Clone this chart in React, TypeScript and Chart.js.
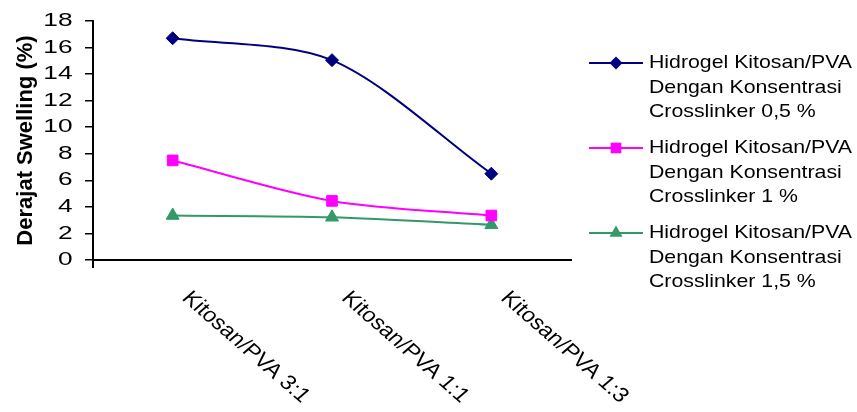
import React, { useEffect, useRef } from 'react';
import { Chart, registerables } from 'chart.js';

Chart.register(...registerables);

const categories = ['Kitosan/PVA 3:1', 'Kitosan/PVA 1:1', 'Kitosan/PVA 1:3'];
const crosslinker05 = [16.7, 15.05, 6.5];
const crosslinker1 = [7.5, 4.45, 3.35];
const crosslinker15 = [3.35, 3.22, 2.65];
const legendLabels = [
  ['Hidrogel Kitosan/PVA', 'Dengan Konsentrasi', 'Crosslinker 0,5 %'],
  ['Hidrogel Kitosan/PVA', 'Dengan Konsentrasi', 'Crosslinker 1 %'],
  ['Hidrogel Kitosan/PVA', 'Dengan Konsentrasi', 'Crosslinker 1,5 %'],
];
const yTitle = 'Derajat Swelling (%)';
const yMin = 0;
const yMax = 18;
const yStep = 2;

const FONT = '"Liberation Sans", Arial, Helvetica, sans-serif';
const NAVY = '#000080';
const PINK = '#FF00FF';
const GREEN = '#339966';
const TEXT_SX = 1.15;

function drawMarker(ctx: CanvasRenderingContext2D, style: string, x: number, y: number, r: number) {
  ctx.beginPath();
  if (style === 'rectRot') {
    ctx.moveTo(x - r, y);
    ctx.lineTo(x, y - r);
    ctx.lineTo(x + r, y);
    ctx.lineTo(x, y + r);
  } else if (style === 'rect') {
    const s = r * Math.SQRT1_2;
    ctx.rect(x - s, y - s, 2 * s, 2 * s);
  } else {
    ctx.moveTo(x, y - r);
    ctx.lineTo(x + 0.866 * r, y + 0.5 * r);
    ctx.lineTo(x - 0.866 * r, y + 0.5 * r);
  }
  ctx.closePath();
  ctx.fill();
}

const customText = {
  id: 'customText',
  afterDraw(chart: any) {
    const ctx: CanvasRenderingContext2D = chart.ctx;
    const xs = chart.scales.x;
    const ys = chart.scales.y;
    const area = chart.chartArea;
    ctx.save();
    ctx.fillStyle = '#000';
    ctx.textBaseline = 'middle';
    // y tick labels (wide rendering as in the reference)
    ctx.font = `18.5px ${FONT}`;
    ctx.textAlign = 'right';
    ys.ticks.forEach((t: any) => {
      const py = ys.getPixelForValue(t.value);
      ctx.save();
      ctx.translate(ys.right - 20.5, py);
      ctx.scale(1.42, 1);
      ctx.fillText(String(t.value), 0, 0);
      ctx.restore();
    });
    // rotated category labels
    ctx.font = `20.5px ${FONT}`;
    ctx.textAlign = 'left';
    categories.forEach((c, i) => {
      const px = xs.getPixelForValue(i);
      ctx.save();
      ctx.translate(px + 13, xs.top + 35);
      ctx.scale(TEXT_SX, 1);
      ctx.rotate(Math.PI / 4);
      ctx.fillText(c, 0, 0);
      ctx.restore();
    });
    // legend
    ctx.font = `18.5px ${FONT}`;
    chart.data.datasets.forEach((ds: any, i: number) => {
      const y = 63 + i * 85;
      const x0 = area.right + 18;
      ctx.strokeStyle = ds.borderColor;
      ctx.lineWidth = 2;
      ctx.beginPath();
      ctx.moveTo(x0, y);
      ctx.lineTo(x0 + 54, y);
      ctx.stroke();
      ctx.fillStyle = ds.borderColor;
      drawMarker(ctx, ds.pointStyle, x0 + 27, y, ds.pointRadius);
      ctx.fillStyle = '#000';
      legendLabels[i].forEach((line, j) => {
        ctx.save();
        ctx.translate(x0 + 60, y + j * 24.7);
        ctx.scale(TEXT_SX, 1);
        ctx.fillText(line, 0, 0);
        ctx.restore();
      });
    });
    ctx.restore();
  },
};

export default function App() {
  const ref = useRef<HTMLCanvasElement>(null);
  useEffect(() => {
    if (!ref.current) return;
    const mk = (label: string, data: number[], color: string, style: string, r: number) => ({
      label,
      data,
      borderColor: color,
      backgroundColor: color,
      pointBackgroundColor: color,
      pointBorderColor: color,
      pointStyle: style,
      pointRadius: r,
      pointBorderWidth: 1,
      borderWidth: 2,
      tension: 0.3,
      fill: false,
    });
    const chart = new Chart(ref.current, {
      type: 'line',
      data: {
        labels: categories,
        datasets: [
          mk(legendLabels[0].join(' '), crosslinker05, NAVY, 'rectRot', 6.5),
          mk(legendLabels[1].join(' '), crosslinker1, PINK, 'rect', 7.5),
          mk(legendLabels[2].join(' '), crosslinker15, GREEN, 'triangle', 7.5),
        ],
      },
      options: {
        animation: false,
        responsive: false,
        layout: { padding: { top: 21, right: 286, bottom: 0, left: 0 } },
        plugins: { legend: { display: false }, tooltip: { enabled: false } },
        scales: {
          x: {
            type: 'category',
            offset: true,
            afterFit: (s: any) => { s.height = 152; },
            ticks: { display: false },
            border: { display: true, color: '#000', width: 2 },
            grid: {
              offset: true,
              drawOnChartArea: false,
              drawTicks: true,
              tickLength: 8,
              lineWidth: 2,
              color: (c: any) => (c.index === 0 || c.index === categories.length ? '#000' : 'rgba(0,0,0,0)'),
            },
          },
          y: {
            min: yMin,
            max: yMax,
            afterFit: (s: any) => { s.width = 93; },
            ticks: {
              stepSize: yStep,
              display: false,
            },
            border: { display: true, color: '#000', width: 2 },
            grid: { drawOnChartArea: false, drawTicks: true, tickLength: 8, color: '#000', lineWidth: 1.5 },
            title: {
              display: true,
              text: yTitle,
              color: '#000',
              font: { family: FONT, size: 22, weight: 'bold' },
              padding: { top: 13, bottom: 0 },
            },
          },
        },
      },
      plugins: [customText],
    } as any);
    return () => chart.destroy();
  }, []);
  return (
    <div style={{ position: 'fixed', left: 0, top: 0, width: 857, height: 412, background: '#fff' }}>
      <canvas ref={ref} width={857} height={412} style={{ width: 857, height: 412, display: 'block' }} />
    </div>
  );
}
